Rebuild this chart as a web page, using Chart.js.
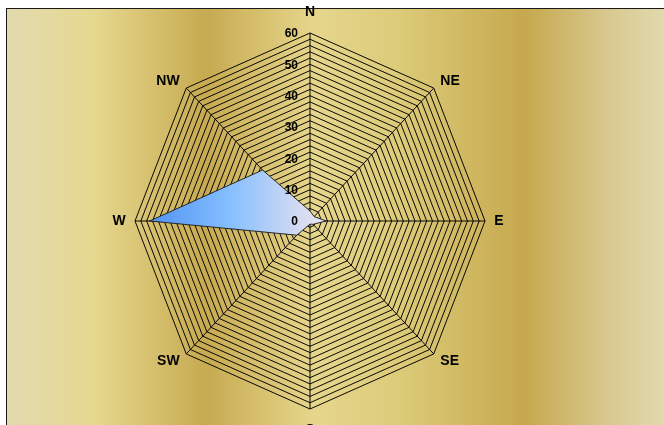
<!DOCTYPE html>
<html>
<head>
<meta charset="utf-8">
<script src="https://cdn.jsdelivr.net/npm/chart.js@4"></script>
<style>
  html, body { margin: 0; padding: 0; background: #fff; }
  #wrap { position: relative; width: 664px; height: 425px; overflow: hidden; }
  #frame {
    position: absolute; left: 6px; top: 8px; width: 700px; height: 450px;
    border: 1px solid #1a1a1a;
    background: linear-gradient(to right,
      #e2dab0 0%, #e6d88e 12.5%, #c7aa51 28.4%, #e6d68c 44%,
      #dccb79 56%, #c6a84e 74%, #d8c990 86%, #e2d9ae 94%);
  }
  #rose { position: absolute; left: 0; top: 0; }
</style>
</head>
<body>
<div id="wrap">
  <div id="frame"></div>
  <canvas id="rose" width="664" height="425"></canvas>
</div>
<script>
const directions = ['N', 'NE', 'E', 'SE', 'S', 'SW', 'W', 'NW'];
const frequency = [3.2, 2, 5.5, 1.5, 1, 6.4, 55, 23];
const ringStep = 2;
const axisMax = 60;
const tickLabels = [0, 10, 20, 30, 40, 50, 60];

// Excel draws this radar a bit narrower than it is tall
const squeezeX = 175 / 188;

function squeeze(x, r) {
    return r.xCenter + (x - r.xCenter) * squeezeX;
}

const roseLook = {
    id: 'roseLook',
    beforeDraw(chart) {
        const r = chart.scales.r;
        const ctx = chart.ctx;
        ctx.save();
        ctx.translate(r.xCenter, 0);
        ctx.scale(squeezeX, 1);
        ctx.translate(-r.xCenter, 0);
    },
    afterDraw(chart) {
        const r = chart.scales.r;
        const ctx = chart.ctx;
        ctx.restore();

        ctx.save();
        ctx.fillStyle = '#000';

        // direction names
        ctx.font = 'bold 14px "Liberation Sans", Arial, sans-serif';
        directions.forEach((name, i) => {
            const along = (i % 4 === 0) ? 14 : 10;
            const p = r.getPointPosition(i, r.drawingArea + along);
            const x = squeeze(p.x, r);
            if (i === 0) {
                ctx.textAlign = 'center'; ctx.textBaseline = 'bottom';
            } else if (i === 4) {
                ctx.textAlign = 'center'; ctx.textBaseline = 'top';
            } else {
                ctx.textAlign = i < 4 ? 'left' : 'right';
                ctx.textBaseline = 'middle';
            }
            ctx.fillText(name, x, p.y);
        });

        // value labels up the N axis
        ctx.font = 'bold 12px "Liberation Sans", Arial, sans-serif';
        ctx.textAlign = 'right';
        ctx.textBaseline = 'middle';
        tickLabels.forEach(v => {
            const y = r.yCenter - r.getDistanceFromCenterForValue(v);
            ctx.fillText(String(v), r.xCenter - 12, y + 1);
        });
        ctx.restore();
    }
};

function roseFill(context) {
    const chart = context.chart;
    const r = chart.scales.r;
    if (!r || !chart.chartArea) return 'rgba(120,180,255,0.8)';
    const w = r.getPointPosition(6, r.getDistanceFromCenterForValue(frequency[6]));
    const g = chart.ctx.createLinearGradient(w.x, 0, r.xCenter + 20, 0);
    g.addColorStop(0, '#4f93f2');
    g.addColorStop(0.45, '#86bfff');
    g.addColorStop(0.85, '#d6dbf1');
    g.addColorStop(1, '#ebeaf8');
    return g;
}

new Chart(document.getElementById('rose'), {
    type: 'radar',
    data: {
        labels: directions,
        datasets: [{
            label: 'Frequency',
            data: frequency,
            backgroundColor: roseFill,
            borderColor: '#222',
            borderWidth: 1,
            fill: true,
            pointRadius: 0,
            pointHoverRadius: 0,
        }]
    },
    options: {
        responsive: false,
        animation: false,
        layout: { padding: { top: 33, bottom: 16, left: 110, right: 154 } },
        plugins: {
            legend: { display: false },
            tooltip: { enabled: false }
        },
        scales: {
            r: {
                min: 0,
                max: axisMax,
                ticks: { stepSize: ringStep, display: false },
                grid: { color: '#000', lineWidth: 1 },
                angleLines: { color: '#000', lineWidth: 1 },
                pointLabels: { display: false }
            }
        }
    },
    plugins: [roseLook]
});
</script>
</body>
</html>
